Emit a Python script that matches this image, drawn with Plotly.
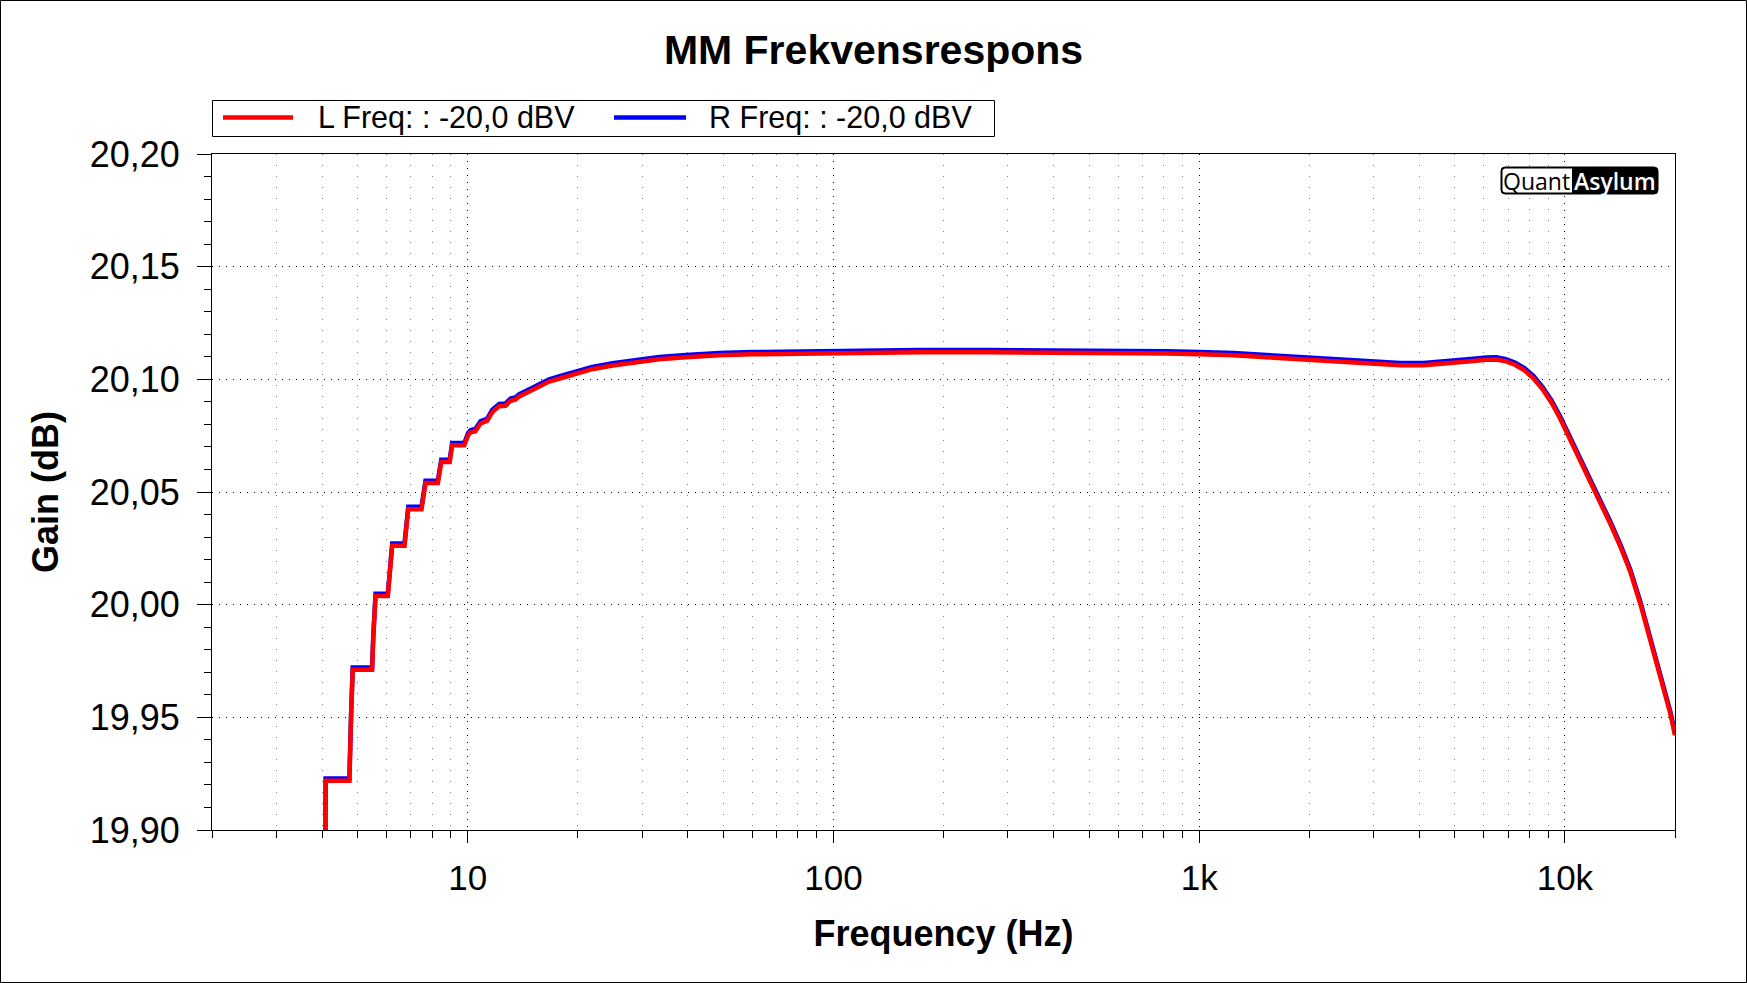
import plotly.graph_objects as go
import math

# ---- data ----
freq_hz = [4.08, 4.09, 4.75, 4.76, 4.80, 4.85, 5.48, 5.52, 5.57, 5.60, 6.05, 6.10, 6.17, 6.22,
           6.72, 6.78, 6.88, 7.48, 7.56, 7.67, 8.29, 8.38, 8.47, 8.93, 9.00, 9.07, 9.79,
           10.04, 10.2, 10.5, 10.85, 11.3, 11.68, 12.2, 12.7, 13.1, 13.5, 13.8, 14.7, 15.67,
           16.7, 18.15, 19.8, 21.9, 24.9, 28.8, 33.4, 39.5, 48.7, 60.1, 82.2, 112.9, 172,
           262, 433, 660, 814, 1005, 1240, 1529, 1887, 2328, 2872, 3543, 4107, 4858, 5628,
           6100, 6500, 6900, 7300, 7750, 8200, 8700, 9200, 9710, 10350, 11000, 11740, 12500,
           13300, 14180, 15100, 16080, 17130, 18240, 19430, 20000]

gain_L_db = [19.870, 19.9219, 19.9219, 19.930, 19.950, 19.9711, 19.9711, 19.985, 19.995, 20.0038,
             20.0038, 20.012, 20.020, 20.0262, 20.0262, 20.034, 20.0424, 20.0424, 20.048, 20.0540,
             20.0540, 20.059, 20.0633, 20.0633, 20.067, 20.0707, 20.0707,
             20.0753, 20.0765, 20.0770, 20.0805, 20.0815, 20.0855, 20.0881, 20.0883, 20.0905,
             20.0910, 20.0923, 20.0945, 20.0968, 20.0990, 20.1007, 20.1027, 20.1045, 20.1061,
             20.1075, 20.1089, 20.1098, 20.1107, 20.1111, 20.1115, 20.1118, 20.1120,
             20.1120, 20.1118, 20.1118, 20.1115, 20.1111, 20.1107, 20.1098, 20.1089, 20.1077,
             20.1068, 20.1062, 20.1062, 20.1070, 20.1081,
             20.1087, 20.1088, 20.1080, 20.1065, 20.1040, 20.1005, 20.0955, 20.0895, 20.0825,
             20.0732, 20.0642, 20.0551, 20.0458,
             20.0360, 20.0258, 20.0145, 20.0003, 19.9843, 19.9679, 19.9515, 19.9420]

gain_R_db = [19.871, 19.9229, 19.9229, 19.931, 19.951, 19.9721, 19.9721, 19.986, 19.996, 20.0048,
             20.0048, 20.013, 20.021, 20.0272, 20.0272, 20.035, 20.0434, 20.0434, 20.049, 20.0550,
             20.0550, 20.060, 20.0643, 20.0643, 20.068, 20.0717, 20.0717,
             20.0763, 20.0775, 20.0780, 20.0815, 20.0825, 20.0865, 20.0891, 20.0893, 20.0915,
             20.0920, 20.0933, 20.0955, 20.0978, 20.1000, 20.1017, 20.1037, 20.1055, 20.1071,
             20.1085, 20.1099, 20.1108, 20.1117, 20.1121, 20.1125, 20.1128, 20.1130,
             20.1130, 20.1128, 20.1128, 20.1125, 20.1121, 20.1117, 20.1108, 20.1099, 20.1087,
             20.1078, 20.1072, 20.1072, 20.1080, 20.1091,
             20.1097, 20.1098, 20.1090, 20.1075, 20.1050, 20.1015, 20.0965, 20.0905, 20.0835,
             20.0742, 20.0652, 20.0561, 20.0468,
             20.0370, 20.0268, 20.0155, 20.0013, 19.9853, 19.9689, 19.9525, 19.9430]

series_names = ["L Freq: : -20,0 dBV", "R Freq: : -20,0 dBV"]
series_colors = ["#ff0000", "#0000ff"]

x_tick_vals = [10, 100, 1000, 10000]
x_tick_text = ["10", "100", "1k", "10k"]
x_minor_vals = [2, 3, 4, 5, 6, 7, 8, 9, 20, 30, 40, 50, 60, 70, 80, 90,
                200, 300, 400, 500, 600, 700, 800, 900,
                2000, 3000, 4000, 5000, 6000, 7000, 8000, 9000, 20000]
x_range_hz = [2, 20000]
y_range_db = [19.90, 20.20]

FONT = "Liberation Sans, Arial, sans-serif"
W, H = 1747, 983
ML, MR, MT, MB = 212, 72, 154, 153
PW, PH = W - ML - MR, H - MT - MB


def px(xp):
    return (xp - ML) / PW


def py(yp):
    return (H - MB - yp) / PH


fig = go.Figure()
# R drawn first (underneath), L on top
fig.add_trace(go.Scatter(x=freq_hz, y=gain_R_db, mode="lines", name=series_names[1],
                         line=dict(color=series_colors[1], width=4.5), showlegend=False))
fig.add_trace(go.Scatter(x=freq_hz, y=gain_L_db, mode="lines", name=series_names[0],
                         line=dict(color=series_colors[0], width=4.5), showlegend=False))

xr = [math.log10(x_range_hz[0]), math.log10(x_range_hz[1])]

fig.update_layout(
    width=W, height=H,
    margin=dict(l=ML, r=MR, t=MT, b=MB),
    paper_bgcolor="white", plot_bgcolor="white",
    separators=",.",
    font=dict(family=FONT, color="black"),
    title=dict(text="MM Frekvensrespons", x=0.5, xanchor="center", xref="container",
               y=1 - 50 / H, yanchor="middle", yref="container",
               font=dict(size=41, family=FONT, weight="bold", color="black")),
    showlegend=False,
    xaxis=dict(type="log", range=xr, tickvals=x_tick_vals, ticktext=x_tick_text,
               ticks="outside", ticklen=12, tickcolor="black", tickwidth=1,
               showline=True, linecolor="black", linewidth=1, mirror=True,
               showgrid=True, gridcolor="black", griddash="1px,6px", gridwidth=1,
               zeroline=False, tickfont=dict(size=35, family=FONT),
               ticklabelstandoff=5,
               minor=dict(tickvals=x_minor_vals, ticks="outside", ticklen=7,
                          tickcolor="black", showgrid=True, gridcolor="#808080",
                          griddash="1px,10px", gridwidth=1),
               title=dict(text="Frequency (Hz)", standoff=24,
                          font=dict(size=36, family=FONT, weight="bold"))),
    yaxis=dict(range=y_range_db, dtick=0.05, tick0=19.9, tickformat=".2f",
               ticks="outside", ticklen=14, tickcolor="black", tickwidth=1,
               showline=True, linecolor="black", linewidth=1, mirror=True,
               showgrid=True, gridcolor="black", griddash="1px,6px", gridwidth=1,
               zeroline=False, tickfont=dict(size=36, family=FONT),
               ticklabelstandoff=10,
               minor=dict(dtick=0.01, ticks="outside", ticklen=7, tickcolor="black",
                          showgrid=False),
               title=dict(text="Gain (dB)", standoff=20,
                          font=dict(size=36, family=FONT, weight="bold"))),
    xaxis2=dict(type="log", range=xr, overlaying="x", anchor="y", side="bottom",
                tickvals=x_tick_vals, ticks="inside", ticklen=12, tickcolor="black",
                showticklabels=False, showgrid=False, showline=False, mirror="ticks",
                zeroline=False,
                minor=dict(tickvals=x_minor_vals, ticks="inside", ticklen=7,
                           tickcolor="black", showgrid=False)),
    yaxis2=dict(range=y_range_db, overlaying="y", anchor="x", side="left",
                dtick=0.05, tick0=19.9, ticks="inside", ticklen=14, tickcolor="black",
                showticklabels=False, showgrid=False, showline=False, zeroline=False,
                minor=dict(dtick=0.01, ticks="inside", ticklen=7, tickcolor="black",
                           showgrid=False)),
)

# ---- legend box (drawn to match the reference layout) ----
fig.add_shape(type="rect", xref="paper", yref="paper", x0=px(212.5), x1=px(994.5),
              y0=py(136.5), y1=py(100.5), line=dict(color="black", width=1),
              fillcolor="white")
legend_line_x = [(223, 293), (614, 686)]
legend_text_x = [316, 707]
for name, color, (lx0, lx1), tx in zip(series_names, series_colors, legend_line_x, legend_text_x):
    fig.add_shape(type="line", xref="paper", yref="paper", x0=px(lx0), x1=px(lx1),
                  y0=py(117.5), y1=py(117.5), line=dict(color=color, width=4.5))
    fig.add_annotation(text=name, xref="paper", yref="paper", x=px(tx), y=py(117),
                       showarrow=False, xanchor="left", yanchor="middle",
                       font=dict(size=30.5, family=FONT, color="black"))


# ---- QuantAsylum logo (rounded badge) ----
def rounded_path(x0, y0, x1, y1, r, round_left=True, round_right=True):
    # pixel coords -> paper coords path
    pts = []
    rl = r if round_left else 0
    rr = r if round_right else 0
    p = "M{},{} ".format(px(x0 + rl), py(y0))
    p += "L{},{} ".format(px(x1 - rr), py(y0))
    if rr:
        p += "Q{},{} {},{} ".format(px(x1), py(y0), px(x1), py(y0 + rr))
    p += "L{},{} ".format(px(x1), py(y1 - rr))
    if rr:
        p += "Q{},{} {},{} ".format(px(x1), py(y1), px(x1 - rr), py(y1))
    p += "L{},{} ".format(px(x0 + rl), py(y1))
    if rl:
        p += "Q{},{} {},{} ".format(px(x0), py(y1), px(x0), py(y1 - rl))
    p += "L{},{} ".format(px(x0), py(y0 + rl))
    if rl:
        p += "Q{},{} {},{} ".format(px(x0), py(y0), px(x0 + rl), py(y0))
    return p + "Z"


fig.add_shape(type="path", xref="paper", yref="paper",
              path=rounded_path(1501, 167, 1658, 194, 4),
              fillcolor="black", line=dict(color="black", width=1))
fig.add_shape(type="path", xref="paper", yref="paper",
              path=rounded_path(1502.5, 168.5, 1572, 192.5, 3, round_right=False),
              fillcolor="white", line=dict(width=0))
fig.add_annotation(text="Quant", xref="paper", yref="paper", x=px(1536.5), y=py(180.5),
                   showarrow=False, xanchor="center", yanchor="middle",
                   font=dict(size=23, family="Open Sans, Noto Sans", color="black"))
fig.add_annotation(text="Asylum", xref="paper", yref="paper", x=px(1615), y=py(180.5),
                   showarrow=False, xanchor="center", yanchor="middle",
                   font=dict(size=23, family="Open Sans, Noto Sans", color="white",
                             weight=600))

# ---- outer frame ----
fig.add_shape(type="rect", xref="paper", yref="paper", x0=px(0.5), x1=px(W - 0.5),
              y0=py(H - 0.5), y1=py(0.5), line=dict(color="black", width=1),
              fillcolor="rgba(0,0,0,0)")

fig.write_html("out.html", config={"displayModeBar": False},
               post_script="document.body.style.margin='0';")
